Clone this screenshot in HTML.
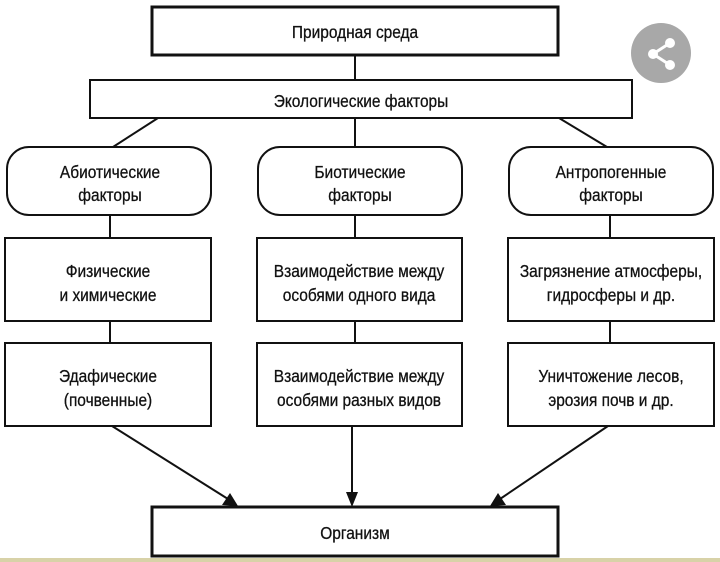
<!DOCTYPE html>
<html><head><meta charset="utf-8"><style>
html,body{margin:0;padding:0;background:#fff;}
svg{display:block}
text{font-family:"Liberation Sans",sans-serif;font-size:18px;fill:#111;text-anchor:middle;transform-box:fill-box;transform-origin:center;transform:scaleX(0.86);stroke:#111;stroke-width:0.3}
</style></head><body>
<svg width="720" height="562" viewBox="0 0 720 562" xmlns="http://www.w3.org/2000/svg">
<rect x="0" y="0" width="720" height="562" fill="#fff"/>
<g fill="none" stroke="#111" stroke-width="2">
<rect x="152" y="7" width="406" height="48" stroke-width="3"/>
<rect x="90" y="80" width="542" height="38"/>
<rect x="7" y="147" width="204" height="68" rx="22"/>
<rect x="258" y="147" width="204" height="68" rx="22"/>
<rect x="509" y="147" width="204" height="68" rx="22"/>
<rect x="5" y="238" width="206" height="83"/>
<rect x="257" y="238" width="205" height="83"/>
<rect x="508" y="238" width="206" height="83"/>
<rect x="5" y="343" width="206" height="83"/>
<rect x="257" y="343" width="205" height="83"/>
<rect x="508" y="343" width="206" height="83"/>
<rect x="152" y="507" width="406" height="49" stroke-width="3"/>
<line x1="355" y1="55" x2="355" y2="80"/>
<line x1="158" y1="118" x2="113" y2="147"/>
<line x1="355" y1="118" x2="355" y2="147"/>
<line x1="559" y1="118" x2="607" y2="147"/>
<line x1="110" y1="215" x2="110" y2="238"/>
<line x1="355" y1="215" x2="355" y2="238"/>
<line x1="610" y1="215" x2="610" y2="238"/>
<line x1="110" y1="321" x2="110" y2="343"/>
<line x1="355" y1="321" x2="355" y2="343"/>
<line x1="610" y1="321" x2="610" y2="343"/>
<line x1="112" y1="426" x2="228" y2="499"/>
<line x1="352" y1="426" x2="352" y2="495"/>
<line x1="608" y1="426" x2="500" y2="499"/>
</g>
<g fill="#111">
<polygon points="238,506 222,505 230,493"/>
<polygon points="352,507 346,492 358,492"/>
<polygon points="490,506 498,493 506,505"/>
</g>
<text x="355" y="38">Природная среда</text>
<text x="361" y="107">Экологические факторы</text>
<text x="110" y="178">Абиотические</text>
<text x="110" y="201">факторы</text>
<text x="360" y="178">Биотические</text>
<text x="360" y="201">факторы</text>
<text x="611" y="178">Антропогенные</text>
<text x="611" y="201">факторы</text>
<text x="108" y="277">Физические</text>
<text x="108" y="301">и химические</text>
<text x="359" y="277">Взаимодействие между</text>
<text x="359" y="301">особями одного вида</text>
<text x="611" y="277">Загрязнение атмосферы,</text>
<text x="611" y="301">гидросферы и др.</text>
<text x="108" y="382">Эдафические</text>
<text x="108" y="406">(почвенные)</text>
<text x="359" y="382">Взаимодействие между</text>
<text x="359" y="406">особями разных видов</text>
<text x="611" y="382">Уничтожение лесов,</text>
<text x="611" y="406">эрозия почв и др.</text>
<text x="355" y="539">Организм</text>
<circle cx="661" cy="53" r="30" fill="#a8a8a8"/>
<g stroke="#fff" stroke-width="3"><line x1="670" y1="43" x2="653" y2="54"/><line x1="653" y1="54" x2="670" y2="65"/></g>
<g fill="#fff"><circle cx="670" cy="43" r="5"/><circle cx="653" cy="54" r="5"/><circle cx="670" cy="65" r="5"/></g>
<rect x="0" y="558" width="720" height="4" fill="#d8d2a8"/>
</svg>
</body></html>
